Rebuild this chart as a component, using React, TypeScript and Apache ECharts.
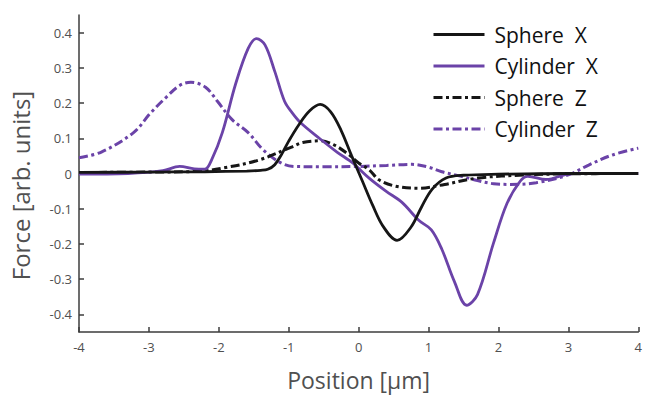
import React, { useEffect, useRef } from "react";
import * as echarts from "echarts";

// Force profiles along the scan position (µm), arbitrary units
const sphereXPos = [-4, -3, -2.2, -1.6, -1.4, -1.3, -1.2, -1.1, -1.0, -0.85, -0.7, -0.55, -0.4, -0.25, -0.1, 0.05, 0.2, 0.35, 0.55, 0.75, 0.9, 1.05, 1.25, 1.5, 2, 3, 4];
const sphereXForce = [0.003, 0.004, 0.005, 0.007, 0.009, 0.012, 0.025, 0.055, 0.092, 0.14, 0.178, 0.196, 0.175, 0.122, 0.05, -0.02, -0.09, -0.15, -0.19, -0.152, -0.095, -0.045, -0.013, -0.005, -0.002, 0, 0];

const cylinderXPos = [-4, -3.3, -2.8, -2.56, -2.35, -2.2, -2.1, -1.95, -1.76, -1.58, -1.46, -1.34, -1.2, -1.06, -0.95, -0.83, -0.55, -0.31, -0.08, 0.15, 0.39, 0.62, 0.86, 1.04, 1.19, 1.37, 1.545, 1.7, 1.93, 2.12, 2.31, 2.42, 2.68, 3.05, 4];
const cylinderXForce = [-0.002, 0.0, 0.008, 0.02, 0.013, 0.012, 0.04, 0.116, 0.254, 0.355, 0.383, 0.365, 0.29, 0.205, 0.172, 0.144, 0.098, 0.061, 0.029, -0.013, -0.05, -0.082, -0.133, -0.16, -0.215, -0.307, -0.374, -0.344, -0.197, -0.086, -0.022, -0.008, -0.017, 0.0, 0.0];

const sphereZPos = [-4, -3, -2.3, -1.9, -1.43, -0.96, -0.8, -0.55, -0.36, -0.17, 0.0, 0.155, 0.29, 0.53, 0.86, 1.23, 1.7, 2.4, 3, 4];
const sphereZForce = [0.003, 0.004, 0.006, 0.017, 0.038, 0.075, 0.088, 0.093, 0.082, 0.058, 0.03, 0.01, -0.018, -0.036, -0.042, -0.031, -0.013, -0.004, -0.001, 0];

const cylinderZPos = [-4, -3.68, -3.22, -2.98, -2.75, -2.56, -2.4, -2.19, -2.02, -1.81, -1.58, -1.36, -1.11, -0.92, -0.5, 0, 0.4, 0.76, 1.0, 1.19, 1.47, 1.7, 1.93, 2.17, 2.54, 3.0, 3.29, 3.62, 4];
const cylinderZForce = [0.045, 0.061, 0.116, 0.171, 0.217, 0.25, 0.259, 0.245, 0.205, 0.153, 0.116, 0.066, 0.03, 0.02, 0.019, 0.02, 0.023, 0.026, 0.018, 0.005, -0.008, -0.02, -0.029, -0.031, -0.026, -0.004, 0.024, 0.052, 0.072];

const xTicks = [-4, -3, -2, -1, 0, 1, 2, 3, 4];
const yTicks = [-0.4, -0.3, -0.2, -0.1, 0, 0.1, 0.2, 0.3, 0.4];
const legendNames = ["Sphere  X", "Cylinder  X", "Sphere  Z", "Cylinder  Z"];

const BLACK = "#161616";
const PURPLE = "#6b43a8";
const AXIS = "#3d3d3d";
const LABEL = "#505050";
const FONT = "'Open Sans', 'Noto Sans', sans-serif";
const DASH_DOT = [9, 3.5, 3, 3.5];

const pairs = (xs: number[], ys: number[]) => xs.map((x, i) => [x, ys[i]]);

export default function App() {
  const ref = useRef<HTMLDivElement>(null);

  useEffect(() => {
    document.body.style.margin = "0";
    const chart = echarts.init(ref.current!, undefined, { renderer: "svg" });

    const line = (name: string, xs: number[], ys: number[], color: string, dashed: boolean) => ({
      name,
      type: "line",
      data: pairs(xs, ys),
      smooth: 0.35,
      showSymbol: false,
      symbol: "none",
      lineStyle: { color, width: dashed ? 3 : 2.8, type: dashed ? DASH_DOT : "solid" },
      itemStyle: { color },
    });

    chart.setOption({
      animation: false,
      backgroundColor: "#ffffff",
      grid: { left: 77.5, top: 15, width: 569.5, height: 326 },
      legend: {
        orient: "vertical",
        left: 427,
        top: 19,
        itemWidth: 51,
        itemHeight: 12,
        itemGap: 10.5,
        itemStyle: { opacity: 0 },
        lineStyle: { width: 3 },
        textStyle: { fontFamily: FONT, fontSize: 21, color: "#111", padding: [0, 0, 0, 5] },
        data: legendNames,
      },
      xAxis: {
        type: "value",
        min: -4,
        max: 4,
        interval: 1,
        name: "Position [µm]",
        nameLocation: "middle",
        nameGap: 36,
        nameTextStyle: { fontFamily: FONT, fontSize: 23, color: LABEL },
        axisLine: { show: true, onZero: false, lineStyle: { color: AXIS, width: 1.5 } },
        axisTick: { show: true, inside: true, length: 5, lineStyle: { color: AXIS, width: 1.5 } },
        axisLabel: {
          fontFamily: FONT,
          fontSize: 13,
          color: LABEL,
          margin: 8,
          showMaxLabel: true,
          customValues: xTicks,
        },
        splitLine: { show: false },
      },
      yAxis: {
        type: "value",
        min: -0.45,
        max: 0.45,
        name: "Force [arb. units]",
        nameLocation: "middle",
        nameGap: 47,
        nameTextStyle: { fontFamily: FONT, fontSize: 24, color: LABEL, padding: [0, 24, 0, 0] },
        axisLine: { show: true, onZero: false, lineStyle: { color: AXIS, width: 1.5 } },
        axisTick: { show: true, inside: true, length: 5, lineStyle: { color: AXIS, width: 1.5 }, customValues: yTicks },
        axisLabel: {
          fontFamily: FONT,
          fontSize: 13,
          color: LABEL,
          margin: 7,
          customValues: yTicks,
          formatter: (v: number) => (Math.abs(v) < 1e-9 ? "0" : v.toFixed(1)),
        },
        splitLine: { show: false },
      },
      series: [
        line("Cylinder  Z", cylinderZPos, cylinderZForce, PURPLE, true),
        line("Sphere  Z", sphereZPos, sphereZForce, BLACK, true),
        line("Cylinder  X", cylinderXPos, cylinderXForce, PURPLE, false),
        line("Sphere  X", sphereXPos, sphereXForce, BLACK, false),
      ],
    });

    return () => chart.dispose();
  }, []);

  return <div ref={ref} style={{ width: 645, height: 396 }} />;
}
